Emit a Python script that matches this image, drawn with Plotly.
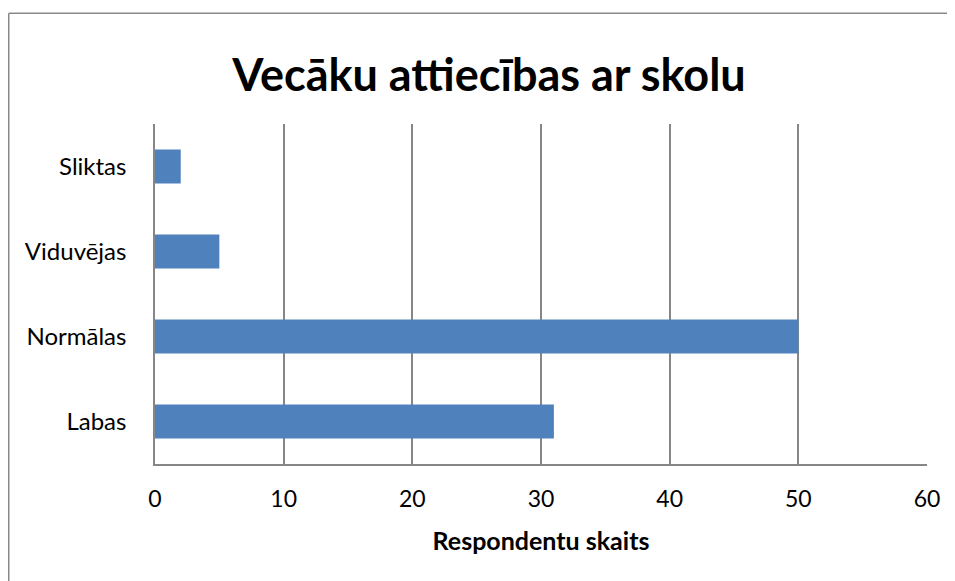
import plotly.graph_objects as go

categories = ["Labas", "Normālas", "Viduvējas", "Sliktas"]
values = [31, 50, 5, 2]
x_ticks = [0, 10, 20, 30, 40, 50, 60]

FONT = "Lato"
OFF = 8  # page body margin
W, H = 955 - OFF, 581 - OFF
L, R, T = 155 - OFF, 955 - 927, 124 - OFF
B = H - (464.5 - OFF)
pw = W - L - R
ph = H - T - B

fig = go.Figure(go.Bar(
    y=categories, x=values, orientation="h",
    marker=dict(color="#4F81BD", line=dict(width=0)),
    width=0.4,
))

fig.update_layout(
    width=W, height=H,
    margin=dict(l=L, r=R, t=T, b=B),
    paper_bgcolor="white", plot_bgcolor="white",
    showlegend=False,
    font=dict(family=FONT, color="black"),
    title=dict(text="<b>Vecāku attiecības ar skolu</b>", x=(489 - OFF) / W, xanchor="center",
               y=1 - (75 - OFF) / H, yanchor="middle", font=dict(size=45, family=FONT, color="black")),
    xaxis=dict(range=[0, 60], tickvals=x_ticks, showgrid=True, gridcolor="#868686", gridwidth=1.5,
               showline=True, linecolor="#868686", linewidth=1.5, zeroline=False,
               ticks="", tickfont=dict(size=23, family=FONT), ticklabelstandoff=14,
               title=dict(text="<b>Respondentu skaits</b>", font=dict(size=25, family=FONT), standoff=21),
               fixedrange=True),
    yaxis=dict(showgrid=False, showline=True, linecolor="#868686", linewidth=1.5,
               ticks="", tickfont=dict(size=24, family=FONT), ticklabelstandoff=22,
               range=[-0.5, 3.5], fixedrange=True),
)

# chart border (top and left visible)
bx = (0.75 - L) / pw
by = 1 + (T - (13 - OFF)) / ph
fig.add_shape(type="line", xref="paper", yref="paper", x0=bx, x1=1.5, y0=by, y1=by,
              line=dict(color="#898989", width=1.5))
fig.add_shape(type="line", xref="paper", yref="paper", x0=bx, x1=bx, y0=-1, y1=by,
              line=dict(color="#898989", width=1.5))

fig.write_html("out.html")
